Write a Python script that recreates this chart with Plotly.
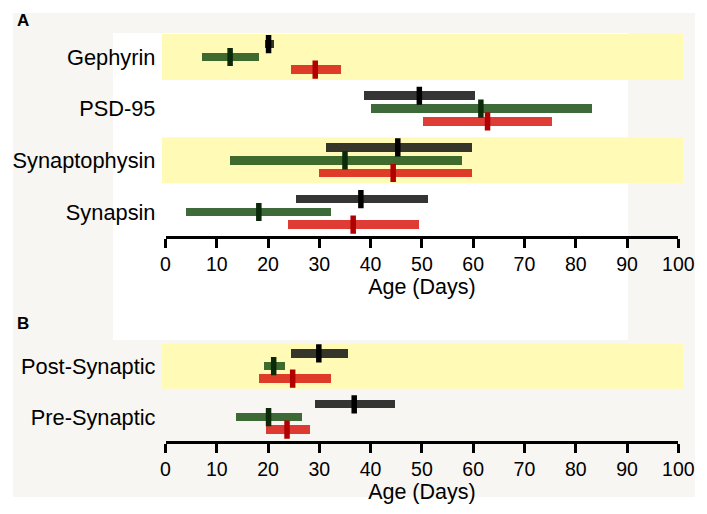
import plotly.graph_objects as go

W, H = 707, 514

# ---------------- data ----------------
genes_a = ["Synapsin", "Synaptophysin", "PSD-95", "Gephyrin"]   # bottom -> top
# [start, end, marker]
black_a = [[25.4, 51.1, 38.1], [31.2, 59.6, 45.3], [38.6, 60.3, 49.5], [19.3, 21.0, 20.1]]
green_a = [[3.9, 32.2, 18.2], [12.4, 57.8, 35.0], [40.0, 83.1, 61.5], [7.1, 18.1, 12.6]]
red_a = [[23.8, 49.4, 36.6], [29.8, 59.6, 44.4], [50.1, 75.3, 62.8], [24.4, 34.1, 29.2]]
band_rows_a = [1, 3]

groups_b = ["Pre-Synaptic", "Post-Synaptic"]
black_b = [[29.0, 44.6, 36.8], [24.4, 35.5, 29.9]]
green_b = [[13.7, 26.6, 20.1], [19.2, 23.2, 21.1]]
red_b = [[19.5, 28.0, 23.7], [18.1, 32.2, 24.8]]
band_rows_b = [1]

x_ticks = list(range(0, 101, 10))

# ---------------- styles ----------------
FONT = "Liberation Sans, Arial, Helvetica, sans-serif"
series_style = [
    # name, bar colour, marker colour, y offset
    ("black", "rgba(14,14,14,0.84)", "#000000", 0.25),
    ("green", "rgba(28,80,22,0.85)", "#0a2a0a", 0.0),
    ("red", "rgba(216,26,16,0.85)", "#b00000", -0.245),
]
BAR_W = 0.165

fig = go.Figure()


def add_panel(data_sets, xa, ya):
    for (name, bc, mc, off), data in zip(series_style, data_sets):
        ys = [i + off for i in range(len(data))]
        fig.add_trace(go.Bar(
            orientation="h", y=ys, base=[d[0] for d in data],
            x=[d[1] - d[0] for d in data], width=BAR_W,
            marker=dict(color=bc, line=dict(width=0)),
            xaxis=xa, yaxis=ya, showlegend=False, hoverinfo="skip"))
        fig.add_trace(go.Scatter(
            x=[d[2] for d in data], y=ys, mode="markers",
            marker=dict(symbol="line-ns", size=13,
                        line=dict(color=mc, width=5.5)),
            xaxis=xa, yaxis=ya, showlegend=False, hoverinfo="skip"))


add_panel([black_a, green_a, red_a], "x", "y")
add_panel([black_b, green_b, red_b], "x2", "y2")


def py(p):
    return 1 - p / H


def px(p):
    return p / W


shapes = [
    dict(type="rect", xref="paper", yref="paper", x0=px(13), x1=px(695),
         y0=py(497), y1=py(13), fillcolor="#f8f6f2", line=dict(width=0), layer="below"),
    dict(type="rect", xref="paper", yref="paper", x0=px(113), x1=px(628),
         y0=py(340), y1=py(33), fillcolor="#ffffff", line=dict(width=0), layer="below"),
]
for r in band_rows_a:
    shapes.append(dict(type="rect", xref="paper", yref="y", x0=px(162), x1=px(683),
                       y0=r - 0.445, y1=r + 0.445, fillcolor="#fffbb6",
                       line=dict(width=0), layer="below"))
for r in band_rows_b:
    shapes.append(dict(type="rect", xref="paper", yref="y2", x0=px(162), x1=px(683),
                       y0=r - 0.445, y1=r + 0.445, fillcolor="#fffbb6",
                       line=dict(width=0), layer="below"))

x_dom = [px(165.5), px(678.3)]
xaxis_common = dict(
    range=[0, 100], tickvals=x_ticks, ticktext=[str(t) for t in x_ticks],
    ticks="outside", ticklen=9, tickwidth=3, tickcolor="black",
    showline=True, linewidth=3, linecolor="black", showgrid=False, zeroline=False,
    tickfont=dict(family=FONT, size=19.5, color="black"),
    title=dict(text="Age (Days)", font=dict(family=FONT, size=21.5, color="black"), standoff=5),
    domain=x_dom, fixedrange=True, automargin=False,
)
yaxis_common = dict(
    showgrid=False, zeroline=False, showline=False, ticks="",
    tickfont=dict(family=FONT, size=21.8, color="black"), ticklabelstandoff=9,
    fixedrange=True, automargin=False,
)

fig.update_layout(
    width=W, height=H, margin=dict(l=0, r=0, t=0, b=0, pad=0), autosize=False,
    paper_bgcolor="#ffffff", plot_bgcolor="rgba(0,0,0,0)",
    barmode="overlay", bargap=0,
    shapes=shapes,
    xaxis=dict(**xaxis_common, anchor="y"),
    xaxis2=dict(**xaxis_common, anchor="y2"),
    yaxis=dict(**yaxis_common, anchor="x", domain=[py(236), py(33)],
               range=[-0.4645, 3.464], tickvals=list(range(len(genes_a))), ticktext=genes_a),
    yaxis2=dict(**yaxis_common, anchor="x2", domain=[py(441), py(343)],
                range=[-0.47, 1.452], tickvals=list(range(len(groups_b))), ticktext=groups_b),
    annotations=[
        dict(text="<b>A</b>", xref="paper", yref="paper", x=px(15), y=py(20.5),
             xanchor="left", yanchor="middle", showarrow=False,
             font=dict(family=FONT, size=17, color="black")),
        dict(text="<b>B</b>", xref="paper", yref="paper", x=px(15), y=py(323),
             xanchor="left", yanchor="middle", showarrow=False,
             font=dict(family=FONT, size=17, color="black")),
    ],
)

fig.write_html("out.html", config={"displayModeBar": False},
               post_script="document.body.style.margin='0';")
